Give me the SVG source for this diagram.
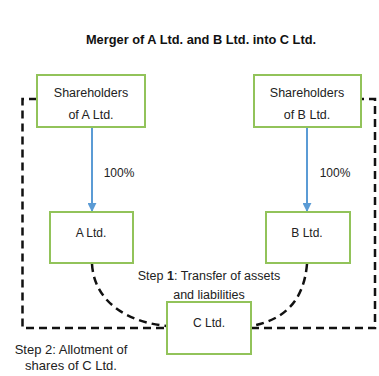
<svg xmlns="http://www.w3.org/2000/svg" width="379" height="376" viewBox="0 0 379 376">
<defs>
<style>
.box{fill:#fff;stroke:#92c35a;stroke-width:2}
.t{font-family:"Liberation Sans",Arial,sans-serif;font-size:12.5px;fill:#222;text-anchor:middle}
.s{font-family:"Liberation Sans",Arial,sans-serif;font-size:12px;fill:#222;text-anchor:middle}
.dash{fill:none;stroke:#111;stroke-width:2.5;stroke-dasharray:8,5}
.arr{stroke:#5b9bd5;stroke-width:2;fill:none}
</style>
<marker id="ah" viewBox="0 0 10 10" refX="9" refY="5" markerWidth="4.5" markerHeight="4.5" orient="auto" markerUnits="strokeWidth">
<path d="M0,0 L10,5 L0,10 z" fill="#5b9bd5"/>
</marker>
</defs>
<rect width="379" height="376" fill="#fff"/>
<text x="201" y="44" font-family="Liberation Sans,Arial,sans-serif" font-size="12.8" font-weight="bold" text-anchor="middle" fill="#111">Merger of A Ltd. and B Ltd. into C Ltd.</text>
<g id="connectors">
<path class="dash" d="M37,99 H22.5 V328 H167"/>
<path class="dash" d="M251,328 H375 V99 H361"/>
<path class="dash" d="M92,264 C94,300 125,322 167,326"/>
<path class="dash" d="M307,264 C304,300 285,320 251,326"/>
<line class="arr" x1="92" y1="127" x2="92" y2="211" marker-end="url(#ah)"/>
<line class="arr" x1="307" y1="127" x2="307" y2="211" marker-end="url(#ah)"/>
<text class="s" x="119" y="177">100%</text>
<text class="s" x="335" y="177">100%</text>
</g>
<g id="shA"><rect class="box" x="37" y="75" width="108" height="52"/><text class="t" x="91" y="97">Shareholders</text><text class="t" x="91" y="119">of A Ltd.</text></g>
<g id="shB"><rect class="box" x="254" y="75" width="107" height="52"/><text class="t" x="307" y="97">Shareholders</text><text class="t" x="307" y="119">of B Ltd.</text></g>
<g id="A"><rect class="box" x="50" y="212" width="83" height="51"/><text class="s" x="91" y="237">A Ltd.</text></g>
<g id="B"><rect class="box" x="266" y="212" width="84" height="51"/><text class="s" x="307" y="237">B Ltd.</text></g>
<g id="C"><rect class="box" x="167" y="302" width="84" height="52"/><text class="s" x="209" y="327">C Ltd.</text></g>
<text class="t" x="209" y="280">Step <tspan font-weight="bold">1</tspan>: Transfer of assets</text>
<text class="t" x="209" y="299">and liabilities</text>
<text class="t" x="71" y="354" style="font-size:13px">Step 2: Allotment of</text>
<text class="t" x="71" y="370" style="font-size:13px">shares of C Ltd.</text>
</svg>
